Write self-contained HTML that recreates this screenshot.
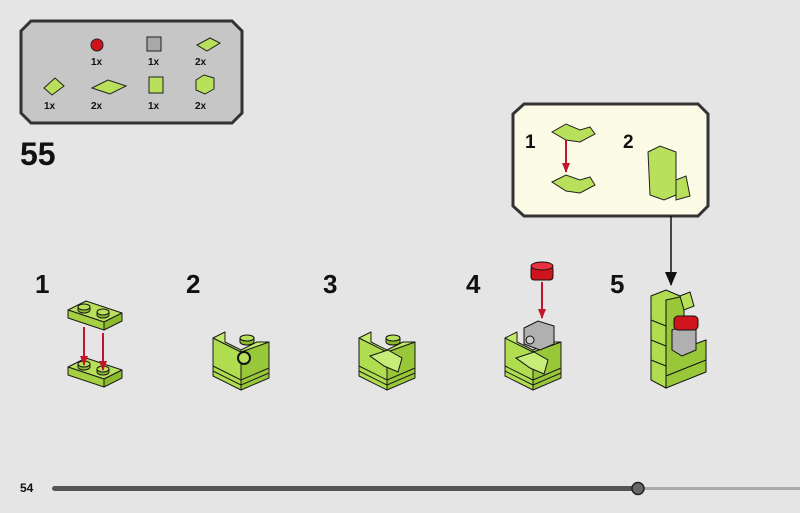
<!DOCTYPE html>
<html><head><style>
html,body{margin:0;padding:0;background:#e5e5e5;}
svg{display:block;font-family:"Liberation Sans",sans-serif;}
</style></head><body>
<svg width="800" height="513" viewBox="0 0 800 513" xmlns="http://www.w3.org/2000/svg">
<defs>
<g id="plate" stroke="#1a1a1a" stroke-width="1" stroke-linejoin="round">
  <polygon points="0,10 18,1 54,13 36,22" fill="#b8e05a"/>
  <polygon points="0,10 36,22 36,30 0,18" fill="#a4d042"/>
  <polygon points="36,22 54,13 54,21 36,30" fill="#8dbb2e"/>
  <path d="M10,7 v3 a6,3 0 0 0 12,0 v-3" fill="#8dbb2e"/><ellipse cx="16" cy="7" rx="6" ry="3" fill="#b8e05a"/>
  <path d="M29,12 v3 a6,3 0 0 0 12,0 v-3" fill="#8dbb2e"/><ellipse cx="35" cy="12" rx="6" ry="3" fill="#b8e05a"/>
</g>
<g id="block" stroke="#1a1a1a" stroke-width="1" stroke-linejoin="round">
  <polygon points="0,10 0,48 28,62 28,24" fill="#b0dc50"/>
  <polygon points="28,24 28,62 56,50 56,14" fill="#98c83a"/>
  <line x1="0" y1="38" x2="28" y2="52"/><line x1="28" y1="52" x2="56" y2="40"/>
  <line x1="0" y1="43" x2="28" y2="57"/><line x1="28" y1="57" x2="56" y2="45"/>
  <polygon points="0,10 12,4 12,14 28,22 28,24" fill="#c4ea6a"/>
  <polygon points="28,22 44,14 56,14 28,24" fill="#c4ea6a"/>
</g>
<marker id="ra" markerWidth="8" markerHeight="10" refX="4" refY="9" markerUnits="userSpaceOnUse" viewBox="0 0 8 10"><polygon points="0,0 8,0 4,10" fill="#c0152a"/></marker>
<marker id="ka" markerWidth="12" markerHeight="14" refX="6" refY="13" markerUnits="userSpaceOnUse" viewBox="0 0 12 14"><polygon points="0,0 12,0 6,14" fill="#111"/></marker>
</defs>

<!-- parts box -->
<polygon points="31,21 232,21 242,31 242,113 232,123 31,123 21,113 21,31" fill="#c6c6c6" stroke="#333" stroke-width="3"/>
<g font-size="10" font-weight="bold" fill="#111">
<circle cx="97" cy="45" r="6" fill="#d0141e" stroke="#222" stroke-width="1"/>
<text x="91" y="65">1x</text>
<rect x="147" y="37" width="14" height="14" fill="#a8a8a8" stroke="#222" stroke-width="1"/>
<text x="148" y="65">1x</text>
<polygon points="197,45 210,38 220,43 207,51" fill="#b8e05a" stroke="#222" stroke-width="1"/>
<text x="195" y="65">2x</text>
<polygon points="44,88 55,78 64,86 52,95" fill="#b8e05a" stroke="#222" stroke-width="1"/>
<text x="44" y="109">1x</text>
<polygon points="92,88 108,80 126,86 110,94" fill="#b8e05a" stroke="#222" stroke-width="1"/>
<text x="91" y="109">2x</text>
<rect x="149" y="77" width="14" height="16" fill="#b8e05a" stroke="#222" stroke-width="1"/>
<text x="148" y="109">1x</text>
<polygon points="196,80 204,75 214,78 214,89 205,94 196,90" fill="#b8e05a" stroke="#222" stroke-width="1"/>
<text x="195" y="109">2x</text>
</g>
<text x="20" y="165" font-size="32" font-weight="bold" fill="#111">55</text>

<!-- callout -->
<polygon points="524,104 698,104 708,114 708,206 698,216 524,216 513,206 513,114" fill="#fcfbe6" stroke="#333" stroke-width="3"/>
<text x="525" y="148" font-size="19" font-weight="bold" fill="#111">1</text>
<text x="623" y="148" font-size="19" font-weight="bold" fill="#111">2</text>
<polygon points="552,132 566,124 580,130 590,127 595,134 580,142 566,140" fill="#b8e05a" stroke="#222" stroke-width="1"/>
<line x1="566" y1="140" x2="566" y2="172" stroke="#c0152a" stroke-width="2" marker-end="url(#ra)"/>
<polygon points="552,182 566,175 580,180 590,177 595,185 580,193 566,191" fill="#b8e05a" stroke="#222" stroke-width="1"/>
<polygon points="648,152 660,146 676,152 676,195 664,200 650,195" fill="#b8e05a" stroke="#222" stroke-width="1"/>
<polygon points="676,180 686,176 690,196 676,200" fill="#b8e05a" stroke="#222" stroke-width="1"/>
<line x1="671" y1="216" x2="671" y2="285" stroke="#111" stroke-width="1.5" marker-end="url(#ka)"/>

<!-- step numbers -->
<g font-size="26" font-weight="bold" fill="#111">
<text x="35" y="293">1</text><text x="186" y="293">2</text><text x="323" y="293">3</text><text x="466" y="293">4</text><text x="610" y="293">5</text>
</g>

<!-- step 1 -->
<use href="#plate" x="68" y="300"/>
<use href="#plate" x="68" y="357"/>
<line x1="84" y1="327" x2="84" y2="365" stroke="#c0152a" stroke-width="2" marker-end="url(#ra)"/>
<line x1="103" y1="333" x2="103" y2="370" stroke="#c0152a" stroke-width="2" marker-end="url(#ra)"/>

<!-- step 2 -->
<use href="#block" x="213" y="328"/>
<circle cx="244" cy="358" r="6" fill="#b8e05a" stroke="#111" stroke-width="2"/>
<path d="M240,338 v4 a7,3 0 0 0 14,0 v-4" fill="#8dbb2e" stroke="#111"/><ellipse cx="247" cy="338" rx="7" ry="3" fill="#b8e05a" stroke="#111"/>

<!-- step 3 -->
<use href="#block" x="359" y="328"/>
<polygon points="370,356 388,350 402,358 398,372 384,366" fill="#c8ec78" stroke="#111"/>
<path d="M386,338 v4 a7,3 0 0 0 14,0 v-4" fill="#8dbb2e" stroke="#111"/><ellipse cx="393" cy="338" rx="7" ry="3" fill="#b8e05a" stroke="#111"/>

<!-- step 4 -->
<use href="#block" x="505" y="328"/>
<polygon points="524,328 538,321 554,326 554,344 540,350 524,344" fill="#b0b0b0" stroke="#111"/>
<circle cx="530" cy="340" r="4" fill="#ccc" stroke="#111"/>
<polygon points="516,358 534,352 548,360 544,374 530,368" fill="#c8ec78" stroke="#111"/>
<rect x="531" y="266" width="22" height="14" rx="3" fill="#d0141e" stroke="#111"/>
<ellipse cx="542" cy="266" rx="11" ry="4" fill="#e83040" stroke="#111"/>
<line x1="542" y1="282" x2="542" y2="318" stroke="#c0152a" stroke-width="2" marker-end="url(#ra)"/>

<!-- step 5 -->
<polygon points="651,296 666,290 680,296 680,380 666,388 651,380" fill="#b0dc50" stroke="#111"/>
<polygon points="666,300 666,388 706,372 706,340 684,348 684,296" fill="#98c83a" stroke="#111"/>
<polygon points="672,330 686,324 696,330 696,350 682,356 672,350" fill="#b0b0b0" stroke="#111"/>
<rect x="674" y="316" width="24" height="14" rx="4" fill="#d0141e" stroke="#111"/>
<polygon points="680,296 690,292 694,306 684,310" fill="#b8e05a" stroke="#111"/>
<g stroke="#111"><line x1="651" y1="320" x2="666" y2="326"/><line x1="651" y1="340" x2="666" y2="346"/><line x1="651" y1="360" x2="666" y2="366"/><line x1="666" y1="376" x2="706" y2="360"/></g>

<!-- footer -->
<text x="20" y="492" font-size="12" font-weight="bold" fill="#111">54</text>
<rect x="52" y="486" width="586" height="5" rx="2.5" fill="#555"/>
<rect x="638" y="487" width="162" height="3" fill="#aaa"/>
<circle cx="638" cy="488.5" r="6" fill="#666" stroke="#222" stroke-width="1.5"/>
</svg>
</body></html>
